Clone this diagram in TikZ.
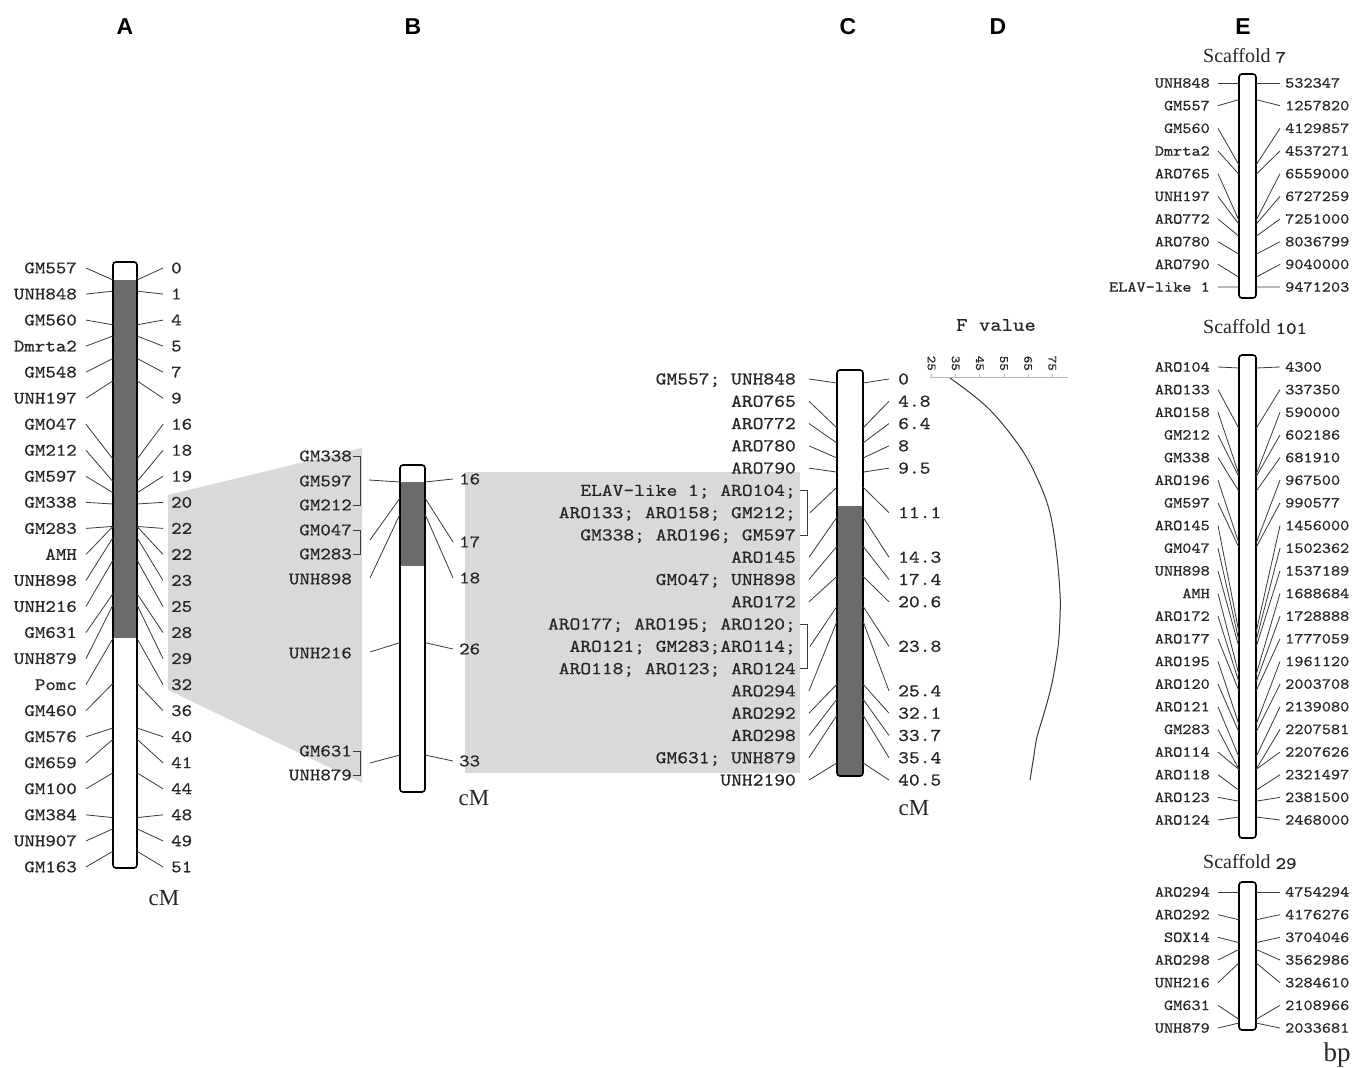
\documentclass[tikz,border=0pt]{standalone}
\usepackage{fontspec}
\newfontfamily\mono[FakeStretch=1.14,FakeBold=0.6]{lmmono10-regular.otf}
\newfontfamily\hdrfont{Liberation Sans}
\newfontfamily\serifu{Liberation Serif}
\definecolor{ln}{HTML}{3A3A3A}
\definecolor{dk}{HTML}{6B6B6B}
\definecolor{lightgrey}{HTML}{D9D9D9}
\definecolor{tx}{HTML}{262626}
\tikzset{
  conn/.style={draw=ln, line width=0.8pt},
  lblA/.style={font=\mono\fontsize{17.5}{18}\selectfont, text=tx, inner sep=0pt, text height=10.7pt, text depth=0pt},
  lblC/.style={font=\mono\fontsize{18}{19}\selectfont, text=tx, inner sep=0pt, text height=11pt, text depth=0pt},
  lblE/.style={font=\mono\fontsize{15.3}{16}\selectfont, text=tx, inner sep=0pt, text height=9.3pt, text depth=0pt},
  ticklbl/.style={font=\mono\fontsize{12.5}{13}\selectfont, text=tx, inner sep=0pt, text height=7.6pt, text depth=0pt},
  chrom/.style={draw=black, line width=1.6pt, rounded corners=3pt},
  hdr/.style={font=\hdrfont\bfseries\fontsize{23}{24}\selectfont, inner sep=0pt},
  unitlbl/.style={font=\serifu\fontsize{23}{24}\selectfont, text=tx, inner sep=0pt},
  scaf/.style={font=\serifu\fontsize{20}{22}\selectfont, text=tx, inner sep=0pt, anchor=west},
  axisln/.style={draw=gray!55, line width=0.7pt},
}
\newcommand\chrombar[6]{%
  \fill[white,rounded corners=3pt] (#1,#3) rectangle (#2,#4);
  \begin{scope}
    \clip[rounded corners=3pt] (#1,#3) rectangle (#2,#4);
    \fill[dk] (#1,#5) rectangle (#2,#6);
  \end{scope}
  \draw[chrom] (#1,#3) rectangle (#2,#4);}
\begin{document}
\begin{tikzpicture}[x=1pt,y=-1pt]
\useasboundingbox (0,0) rectangle (1353,1068);
\fill[white] (0,0) rectangle (1353,1068);
% shaded correspondences
\fill[lightgrey] (168,495) -- (362,448) -- (362,783) -- (168,690) -- cycle;
\fill[lightgrey] (465,472) rectangle (800,773);
% headers
\node[hdr] (hA) at (125,27) {A};
\node[hdr] (hB) at (413,27) {B};
\node[hdr] (hC) at (848,27) {C};
\node[hdr] (hD) at (998,27) {D};
\node[hdr] (hE) at (1243,27) {E};
% chromosome bars
\chrombar{113}{137}{262}{868}{280}{638}
\chrombar{400}{425}{465}{792}{482}{566}
\chrombar{837}{863}{370}{776}{506}{790}
\chrombar{1239}{1256}{74}{298}{0}{0}
\chrombar{1239}{1256}{355}{838}{0}{0}
\chrombar{1239}{1256}{882}{1030}{0}{0}
% ---------- Panel A ----------
\foreach \nm/\cm [count=\i] in {GM557/0,UNH848/1,GM560/4,Dmrta2/5,GM548/7,UNH197/9,GM047/16,GM212/18,GM597/19,GM338/20,GM283/22,AMH/22,UNH898/23,UNH216/25,GM631/28,UNH879/29,Pomc/32,GM460/36,GM576/40,GM659/41,GM100/44,GM384/48,UNH907/49,GM163/51}{
  \pgfmathsetmacro\ly{268+26.04*(\i-1)}
  \pgfmathsetmacro\by{280+11.2*\cm}
  \node[lblA,anchor=east] (aL\i) at (77,\ly) {\nm};
  \node[lblA,anchor=west] (aR\i) at (171,\ly) {\cm};
  \coordinate (aBL\i) at (113,\by);
  \coordinate (aBR\i) at (137,\by);
  \draw[conn] ([xshift=9pt]aL\i.east) -- (aBL\i);
  \draw[conn] (aBR\i) -- ([xshift=-8pt]aR\i.west);
}
\node[unitlbl] (cmA) at (164,898) {cM};
% ---------- Panel B ----------
\node[lblA,anchor=east] (bL1) at (352,456) {GM338};
\node[lblA,anchor=east] (bL2) at (352,481) {GM597};
\node[lblA,anchor=east] (bL3) at (352,505) {GM212};
\node[lblA,anchor=east] (bL4) at (352,530) {GM047};
\node[lblA,anchor=east] (bL5) at (352,554) {GM283};
\node[lblA,anchor=east] (bL6) at (352,579) {UNH898};
\node[lblA,anchor=east] (bL7) at (352,653) {UNH216};
\node[lblA,anchor=east] (bL8) at (352,751) {GM631};
\node[lblA,anchor=east] (bL9) at (352,775) {UNH879};
\draw[conn] ([xshift=1pt]bL1.east) -| ([xshift=8.5pt]bL3.east) -- ([xshift=1pt]bL3.east);
\draw[conn] ([xshift=1pt]bL4.east) -| ([xshift=8.5pt]bL5.east) -- ([xshift=1pt]bL5.east);
\draw[conn] ([xshift=1pt]bL8.east) -| ([xshift=8.5pt]bL9.east) -- ([xshift=1pt]bL9.east);
\coordinate (bK1) at (369,480);
\coordinate (bK2) at (370,540);
\coordinate (bK3) at (370,578);
\coordinate (bK4) at (370,652);
\coordinate (bK5) at (370,763);
\foreach \cm/\ny [count=\i] in {16/479,17/542,18/578,26/649,33/761}{
  \pgfmathsetmacro\by{482+16.06*(\cm-16)}
  \coordinate (bBL\i) at (400,\by);
  \coordinate (bBR\i) at (425,\by);
  \node[lblA,anchor=west] (bR\i) at (459,\ny) {\cm};
  \draw[conn] (bK\i) -- (bBL\i);
  \draw[conn] (bBR\i) -- ([xshift=-6pt]bR\i.west);
}
\node[unitlbl] (cmB) at (474,798) {cM};
% ---------- Panel C ----------
\foreach \nm [count=\i] in {GM557; UNH848,ARO765,ARO772,ARO780,ARO790,ELAV-like 1; ARO104;,ARO133; ARO158; GM212;,GM338; ARO196; GM597,ARO145,GM047; UNH898,ARO172,ARO177; ARO195; ARO120;,ARO121; GM283;ARO114;,ARO118; ARO123; ARO124,ARO294,ARO292,ARO298,GM631; UNH879,UNH2190}{
  \pgfmathsetmacro\ly{379+22.28*(\i-1)}
  \node[lblC,anchor=east] (cL\i) at (796,\ly) {\nm};
}
\foreach \r/\cm in {1/0,2/4.8,3/6.4,4/8,5/9.5,7/11.1,9/14.3,10/17.4,11/20.6,13/23.8,15/25.4,16/32.1,17/33.7,18/35.4,19/40.5}{
  \pgfmathsetmacro\ly{379+22.28*(\r-1)}
  \pgfmathsetmacro\by{383+9.38*\cm}
  \node[lblC,anchor=west] (cR\r) at (898,\ly) {\cm};
  \coordinate (cBL\r) at (837,\by);
  \coordinate (cBR\r) at (863,\by);
  \draw[conn] (cBR\r) -- ([xshift=-9pt]cR\r.west);
}
\foreach \r in {1,2,3,4,5,9,10,11,15,16,17,18,19}{
  \draw[conn] ([xshift=13pt]cL\r.east) -- (cBL\r);
}
\draw[conn] ([xshift=4pt]cL6.east) -| ([xshift=11pt]cL8.east) -- ([xshift=4pt]cL8.east);
\draw[conn] ([xshift=4pt]cL12.east) -| ([xshift=11pt]cL14.east) -- ([xshift=4pt]cL14.east);
\draw[conn] ([xshift=14pt]cL7.east) -- (cBL7);
\draw[conn] ([xshift=14pt]cL13.east) -- (cBL13);
\node[unitlbl] (cmC) at (914,808) {cM};
% ---------- Panel D ----------
\node[font=\mono\fontsize{19}{20}\selectfont, text=tx, inner sep=0pt] (fval) at (996,325) {F value};
\draw[axisln] (930,377.5) -- (1068,377.5);
\foreach \v [count=\i] in {25,35,45,55,65,75}{
  \pgfmathsetmacro\tx{931.5+24.15*(\i-1)}
  \draw[axisln] (\tx,373.5) -- (\tx,377.5);
  \node[ticklbl,rotate=-90,anchor=east] (tk\i) at (\tx,371) {\v};
}
\draw[ln, line width=1pt] plot[smooth, tension=0.6] coordinates {(950,378) (988,408) (1020,447) (1038,480) (1050,513) (1056.5,553) (1060,593) (1060,617) (1058,647) (1052,683) (1045,710) (1037,737) (1034,755) (1030,780)};
% ---------- Panel E ----------
\node[scaf] (s7t) at (1203,56) {Scaffold {\mono\fontsize{17.5}{18}\selectfont 7}};
\node[scaf] (s101t) at (1203,327) {Scaffold {\mono\fontsize{17.5}{18}\selectfont 101}};
\node[scaf] (s29t) at (1203,862) {Scaffold {\mono\fontsize{17.5}{18}\selectfont 29}};
\foreach \nm/\bpv/\by [count=\i] in {UNH848/532347/83.0,GM557/1257820/99.6,GM560/4129857/165.1,Dmrta2/4537271/174.4,ARO765/6559000/220.5,UNH197/6727259/224.4,ARO772/7251000/236.3,ARO780/8036799/254.3,ARO790/9040000/277.2,ELAV-like 1/9471203/287.0}{
  \pgfmathsetmacro\ly{83+22.67*(\i-1)}
  \node[lblE,anchor=east] (sAL\i) at (1210,\ly) {\nm};
  \node[lblE,anchor=west] (sAR\i) at (1285,\ly) {\bpv};
  \coordinate (sABL\i) at (1239,\by);
  \coordinate (sABR\i) at (1256,\by);
  \draw[conn] ([xshift=8pt]sAL\i.east) -- (sABL\i);
  \draw[conn] (sABR\i) -- ([xshift=-5pt]sAR\i.west);
}
\foreach \nm/\bpv/\by [count=\i] in {ARO104/4300/368.0,ARO133/337350/428.7,ARO158/590000/474.7,GM212/602186/477.0,GM338/681910/491.5,ARO196/967500/543.5,GM597/990577/547.7,ARO145/1456000/632.6,GM047/1502362/641.0,UNH898/1537189/647.4,AMH/1688684/675.0,ARO172/1728888/682.3,ARO177/1777059/691.1,ARO195/1961120/724.6,ARO120/2003708/732.4,ARO121/2139080/757.1,GM283/2207581/769.5,ARO114/2207626/769.5,ARO118/2321497/790.3,ARO123/2381500/801.2,ARO124/2468000/817.0}{
  \pgfmathsetmacro\ly{367+22.65*(\i-1)}
  \node[lblE,anchor=east] (sBL\i) at (1210,\ly) {\nm};
  \node[lblE,anchor=west] (sBR\i) at (1285,\ly) {\bpv};
  \coordinate (sBBL\i) at (1239,\by);
  \coordinate (sBBR\i) at (1256,\by);
  \draw[conn] ([xshift=8pt]sBL\i.east) -- (sBBL\i);
  \draw[conn] (sBBR\i) -- ([xshift=-5pt]sBR\i.west);
}
\foreach \nm/\bpv/\by [count=\i] in {ARO294/4754294/892.0,ARO292/4176276/919.8,SOX14/3704046/942.6,ARO298/3562986/949.4,UNH216/3284610/962.8,GM631/2108966/1019.4,UNH879/2033681/1023.0}{
  \pgfmathsetmacro\ly{892+22.67*(\i-1)}
  \node[lblE,anchor=east] (sCL\i) at (1210,\ly) {\nm};
  \node[lblE,anchor=west] (sCR\i) at (1285,\ly) {\bpv};
  \coordinate (sCBL\i) at (1239,\by);
  \coordinate (sCBR\i) at (1256,\by);
  \draw[conn] ([xshift=8pt]sCL\i.east) -- (sCBL\i);
  \draw[conn] (sCBR\i) -- ([xshift=-5pt]sCR\i.west);
}
\node[font=\serifu\fontsize{27}{28}\selectfont, text=tx, inner sep=0pt] (bpu) at (1337,1055) {bp};
\end{tikzpicture}
\end{document}
